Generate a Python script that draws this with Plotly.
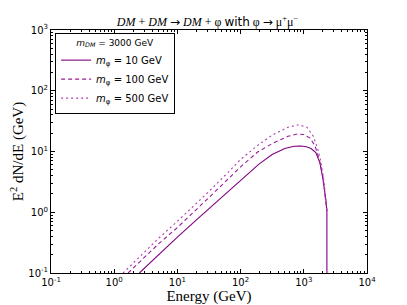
import plotly.graph_objects as go

# Readings from the reference (Energy in GeV, E^2 dN/dE in GeV)
energy_10 = [2.5, 4.0, 6.5, 10, 20, 31.6, 63, 100, 195, 316, 500, 700, 900, 1100, 1300, 1550, 1800, 2000, 2150, 2250, 2320, 2320]
flux_10 = [0.1, 0.16, 0.26, 0.39, 0.75, 1.15, 2.2, 3.3, 6.2, 8.9, 11.2, 12.2, 12.3, 12.0, 11.2, 9.6, 6.5, 3.6, 2.2, 1.5, 1.05, 0.1]

energy_100 = [1.66, 3.0, 5.0, 10, 20, 31.6, 63, 100, 186, 316, 562, 794, 1000, 1260, 1500, 1750, 2000, 2150, 2250, 2320]
flux_100 = [0.1, 0.18, 0.3, 0.56, 1.1, 1.75, 3.5, 5.6, 9.8, 13.5, 17.8, 19.5, 19.0, 16.6, 12.5, 7.5, 4.0, 2.3, 1.5, 1.05]

energy_500 = [1.38, 3.0, 5.0, 10, 20, 31.6, 63, 100, 186, 316, 562, 832, 1122, 1413, 1650, 1850, 2090, 2200, 2320]
flux_500 = [0.1, 0.22, 0.37, 0.71, 1.4, 2.2, 4.5, 7.4, 12.6, 18.6, 25.1, 27.5, 25.1, 17.8, 11.5, 7.0, 3.2, 1.9, 1.05]

x_major = [0.1, 1, 10, 100, 1000, 10000]
x_labels = ["10<sup>-1</sup>", "10<sup>0</sup>", "10<sup>1</sup>", "10<sup>2</sup>", "10<sup>3</sup>", "10<sup>4</sup>"]
y_major = [0.1, 1, 10, 100, 1000]
y_labels = ["10<sup>-1</sup>", "10<sup>0</sup>", "10<sup>1</sup>", "10<sup>2</sup>", "10<sup>3</sup>"]


def minor_vals(majors):
    out = []
    for m in majors[:-1]:
        for k in range(2, 10):
            out.append(m * k)
    return out


fig = go.Figure()
fig.add_trace(go.Scatter(x=energy_10, y=flux_10, mode="lines",
                         line=dict(color="#800080", width=1.1, dash="solid"),
                         name="<i>m</i><sub>φ</sub> = 10 GeV"))
fig.add_trace(go.Scatter(x=energy_100, y=flux_100, mode="lines",
                         line=dict(color="#9a1a9a", width=1.1, dash="4px,3px"),
                         name="<i>m</i><sub>φ</sub> = 100 GeV"))
fig.add_trace(go.Scatter(x=energy_500, y=flux_500, mode="lines",
                         line=dict(color="#b03cb0", width=1.1, dash="2px,3px"),
                         name="<i>m</i><sub>φ</sub> = 500 GeV"))

axis_common = dict(
    type="log", showgrid=False, zeroline=False, automargin=False,
    showline=True, linecolor="black", linewidth=1, mirror="allticks",
    ticks="inside", ticklen=4, tickcolor="black", tickwidth=1,
    tickmode="array",
    tickfont=dict(family="DejaVu Sans", size=10, color="black"),
)

fig.update_xaxes(
    **axis_common, range=[-1, 4], tickvals=x_major, ticktext=x_labels,
    minor=dict(ticks="inside", ticklen=2, tickcolor="black", tickmode="array",
               tickvals=minor_vals(x_major), showgrid=False),
    title=dict(text="Energy (GeV)", font=dict(family="Liberation Serif", size=15, color="black"),
               standoff=2),
)
fig.update_yaxes(
    **axis_common, range=[-1, 3], tickvals=y_major, ticktext=y_labels,
    minor=dict(ticks="inside", ticklen=2, tickcolor="black", tickmode="array",
               tickvals=minor_vals(y_major), showgrid=False),
    title=dict(text="E<sup>2</sup> dN/dE (GeV)", font=dict(family="Liberation Serif", size=15, color="black"),
               standoff=8),
)

# The page body adds an 8px offset; figure size and margins compensate for it.
fig.update_layout(
    width=399, height=297,
    margin=dict(l=43, r=40, t=22, b=32, autoexpand=False),
    paper_bgcolor="white", plot_bgcolor="white",
    title=dict(text="<i>DM</i> + <i>DM</i> <span style='font-family:DejaVu Sans'>→</span> <i>DM</i> + φ "
                    "<span style='font-family:DejaVu Sans'>with</span> φ "
                    "<span style='font-family:DejaVu Sans'>→</span> μ<sup>+</sup>μ<sup>−</sup>",
               x=0.5, xanchor="center", y=0.955, yanchor="middle", automargin=False,
               font=dict(family="Liberation Serif", size=12, color="black")),
    legend=dict(
        x=0.013, y=0.988, xanchor="left", yanchor="top",
        bgcolor="white", bordercolor="black", borderwidth=1,
        font=dict(family="DejaVu Sans", size=10, color="black"),
        title=dict(text="<i>m<sub>DM</sub></i> = 3000 GeV", side="top center",
                   font=dict(family="DejaVu Sans", size=9, color="black")),
        itemwidth=30, tracegroupgap=0,
    ),
    showlegend=True,
)

fig.write_html("out.html")
